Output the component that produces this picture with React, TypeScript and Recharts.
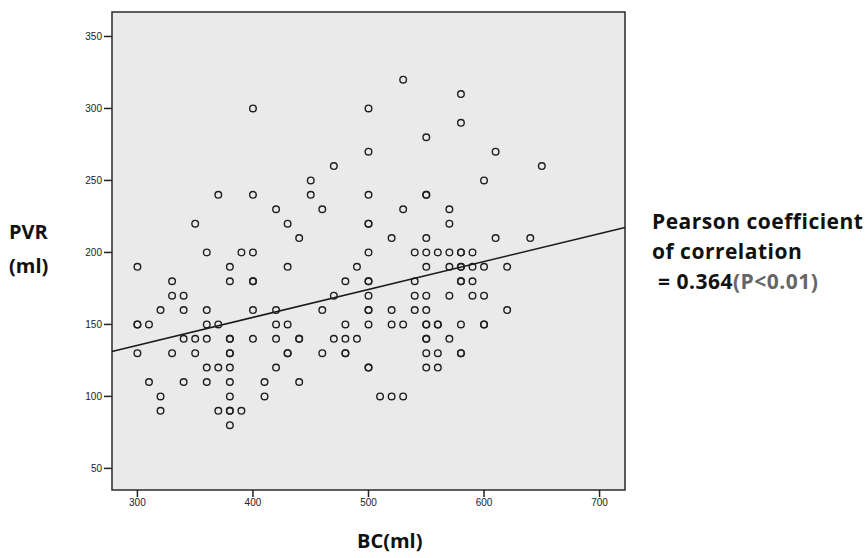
import { ScatterChart, Scatter, XAxis, YAxis, ReferenceArea, ReferenceLine } from 'recharts';

// PVR levels (ml) and the BC values (ml) of the points sitting on each level
const pvrLevels = [320, 310, 300, 290, 280, 270, 260, 250, 240, 230, 220, 210, 200, 190, 180, 170, 160, 150, 140, 130, 120, 110, 100, 90, 80];
const bcAtLevel: number[][] = [
  [530],
  [580],
  [400, 500],
  [580],
  [550],
  [500, 610],
  [470, 650],
  [450, 600],
  [370, 400, 450, 500, 550, 550],
  [420, 460, 530, 570],
  [350, 430, 500, 500, 570],
  [440, 520, 550, 610, 640],
  [360, 390, 400, 500, 540, 550, 560, 570, 580, 580, 590],
  [300, 380, 430, 490, 550, 570, 580, 580, 590, 600, 620],
  [330, 380, 400, 400, 480, 500, 500, 540, 580, 580, 590],
  [330, 340, 470, 500, 540, 550, 570, 590, 600],
  [320, 340, 360, 400, 420, 460, 500, 500, 520, 540, 550, 620],
  [300, 300, 310, 360, 370, 420, 430, 480, 500, 520, 530, 550, 550, 560, 560, 580, 600, 600],
  [340, 350, 360, 380, 380, 400, 420, 440, 440, 470, 480, 490, 550, 550, 570],
  [300, 330, 350, 380, 380, 430, 430, 460, 480, 480, 550, 560, 580, 580],
  [360, 370, 380, 420, 500, 500, 550, 560],
  [310, 340, 360, 380, 410, 440],
  [320, 380, 410, 510, 520, 530],
  [320, 370, 380, 380, 390],
  [380],
];

const xTicks = [300, 400, 500, 600, 700];
const yTicks = [50, 100, 150, 200, 250, 300, 350];

// fitted line
const fitIntercept = 77.3;
const fitSlope = 0.194;

const X_DOMAIN: [number, number] = [278, 722];
const Y_DOMAIN: [number, number] = [35, 367];

const points = pvrLevels.flatMap((pvr, i) => bcAtLevel[i].map((bc) => ({ bc, pvr })));

const RingDot = (props: any) => {
  const { cx, cy } = props;
  if (cx == null || cy == null) return null;
  return <circle cx={cx} cy={cy} r={3.3} fill="none" stroke="#1e1e1e" strokeWidth={1.4} />;
};

const tickStyle = { fontSize: 10, fill: '#222', fontFamily: '"Liberation Sans", Arial, sans-serif' };
const labelFont = '"Open Sans", Lato, sans-serif';

export default function App() {
  return (
    <div style={{ position: 'absolute', left: 0, top: 0, width: 867, height: 558, background: '#fff' }}>
      <ScatterChart width={867} height={558} margin={{ top: 12, right: 242, left: 72, bottom: 38 }}>
        <ReferenceArea
          x1={X_DOMAIN[0]}
          x2={X_DOMAIN[1]}
          y1={Y_DOMAIN[0]}
          y2={Y_DOMAIN[1]}
          fill="#eaeaea"
          fillOpacity={1}
          stroke="#2a2a2a"
          strokeWidth={1.5}
        />
        <XAxis
          type="number"
          dataKey="bc"
          domain={X_DOMAIN}
          ticks={xTicks}
          allowDataOverflow
          axisLine={false}
          tickSize={7}
          tickLine={{ stroke: '#222', strokeWidth: 1.5 }}
          tick={tickStyle}
          height={30}
        />
        <YAxis
          type="number"
          dataKey="pvr"
          domain={Y_DOMAIN}
          ticks={yTicks}
          allowDataOverflow
          axisLine={false}
          tickSize={8}
          tickLine={{ stroke: '#222', strokeWidth: 1.5 }}
          tick={tickStyle}
          width={40}
        />
        <ReferenceLine
          segment={[
            { x: X_DOMAIN[0], y: fitIntercept + fitSlope * X_DOMAIN[0] },
            { x: X_DOMAIN[1], y: fitIntercept + fitSlope * X_DOMAIN[1] },
          ]}
          stroke="#1a1a1a"
          strokeWidth={1.5}
        />
        <Scatter data={points} shape={RingDot} isAnimationActive={false} />
      </ScatterChart>

      <div style={{ position: 'absolute', left: 9, top: 215, fontFamily: labelFont, fontWeight: 700, fontSize: 20, lineHeight: '34px', color: '#111' }}>
        PVR
        <br />
        (ml)
      </div>
      <div style={{ position: 'absolute', left: 357, top: 526, fontFamily: labelFont, fontWeight: 700, fontSize: 20, lineHeight: '30px', color: '#111' }}>
        BC(ml)
      </div>
      <div style={{ position: 'absolute', left: 652, top: 206, fontFamily: labelFont, fontWeight: 700, fontSize: 21, letterSpacing: 0.5, lineHeight: '30px', color: '#111', whiteSpace: 'nowrap' }}>
        Pearson coefficient
        <br />
        of correlation
        <br />
        &nbsp;= 0.364<span style={{ color: '#666' }}>(P&lt;0.01)</span>
      </div>
    </div>
  );
}
